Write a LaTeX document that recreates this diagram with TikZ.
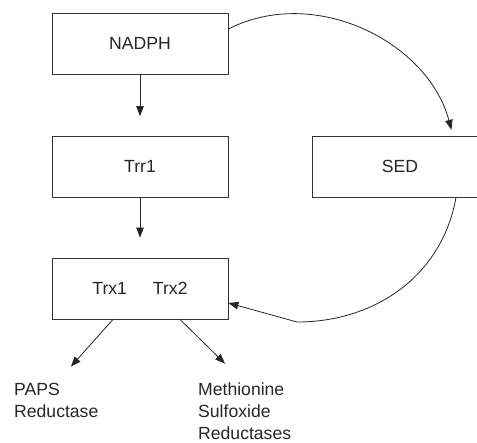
\documentclass[tikz,border=0pt]{standalone}
\usepackage{fontspec}
\setmainfont{Liberation Sans}
\usetikzlibrary{arrows.meta}

\begin{document}
\begin{tikzpicture}[x=1pt,y=1pt,
	every node/.style={font=\fontsize{17.6}{21.8}\selectfont, text=black!85},
	box/.style={draw=black!80, line width=0.8pt, minimum width=176pt, minimum height=61pt, inner sep=0pt},
	arr/.style={-{Triangle[length=10pt,width=7.5pt]}, line width=0.8pt, draw=black!85},
	lbl/.style={align=left, anchor=north west, inner sep=0pt}]
	\useasboundingbox (0,0) rectangle (477,443);

	\node[box] (nadph) at (140,399.5) {\raisebox{-3pt}{NADPH}};
	\node[box] (trr) at (140,276.5) {Trr1\hspace{24pt}};
	\node[box] (sed) at (400,276.5) {SED};
	\node[box] (trx) at (140,154.5) {\raisebox{-10pt}{Trx1\hspace{26pt}Trx2}};

	\node[lbl] (paps) at (14,60) {PAPS\\Reductase};
	\node[lbl] (msr) at (198,60) {Methionine\\Sulfoxide\\Reductases};

	\draw[arr, shorten >=19.5pt] (nadph) -- (trr);
	\draw[arr, shorten >=20pt] (trr) -- (trx);

	%\draw (sed.north) -- (sed.south);
	\draw[arr, shorten >=6pt] ([yshift=14.5pt]nadph.east) to[out=27,in=105] ([xshift=53pt]sed.north);
	\coordinate (turn) at (297,121);
	\draw[arr] ([xshift=56pt]sed.south) to[out=-100,in=0] (turn) -- ([yshift=-14.5pt]trx.east);

	\foreach \dx/\dst/\gap in {-27pt/paps/22pt, 40pt/msr/27.5pt}
		\draw[arr, shorten >=\gap] ([xshift=\dx]trx.south) -- (\dst.north);
\end{tikzpicture}
\end{document}
